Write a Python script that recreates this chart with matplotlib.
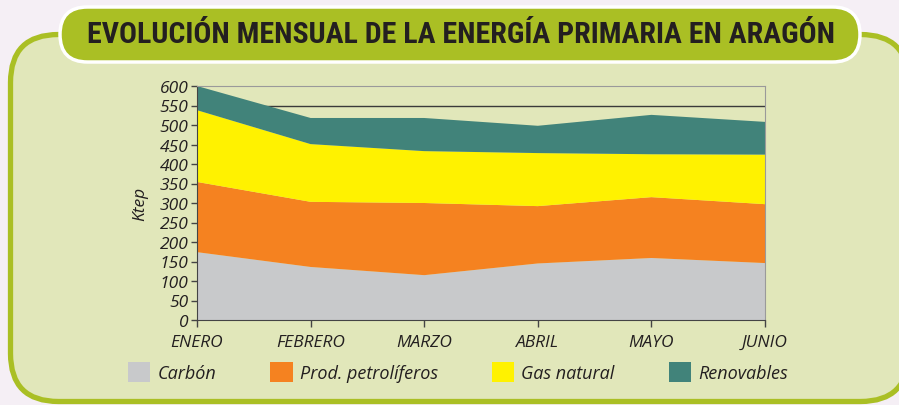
"""Evolución mensual de la energía primaria en Aragón - stacked area."""
import matplotlib
matplotlib.use("Agg")
import matplotlib.pyplot as plt
from matplotlib.patches import FancyBboxPatch, Patch

# data (ktep)
months = ["ENERO", "FEBRERO", "MARZO", "ABRIL", "MAYO", "JUNIO"]
carbon = [174, 136, 115, 145, 159, 146]
petroliferos = [180, 167, 185, 147, 156, 151]
gas_natural = [184, 148, 133, 136, 110, 127]
renovables = [62, 67, 85, 70, 101, 84]
series_names = ["Carbón", "Prod. petrolíferos", "Gas natural", "Renovables"]
yticks = list(range(0, 601, 50))

colors = ["#c8c9cb", "#f58220", "#fff200", "#41837a"]
GREEN = "#aabf24"
PANEL = "#e1e7ba"
TXT = "#231f20"
FONT = ["Open Sans", "DejaVu Sans"]

fig = plt.figure(figsize=(8.99, 4.06), dpi=100, facecolor="#f5eff5")

# background decoration in pixel coords
bg = fig.add_axes([0, 0, 1, 1])
bg.set_xlim(0, 899)
bg.set_ylim(406, 0)
bg.axis("off")
bg.add_patch(FancyBboxPatch((10.5, 35.5), 898, 367,
                            boxstyle="round,pad=0,rounding_size=48",
                            fc=PANEL, ec=GREEN, lw=3.8))
bg.add_patch(FancyBboxPatch((60, 8), 800, 55,
                            boxstyle="round,pad=0,rounding_size=27.5",
                            fc=GREEN, ec="white", lw=2.5))
bg.text(461, 35, "EVOLUCIÓN MENSUAL DE LA ENERGÍA PRIMARIA EN ARAGÓN",
        ha="center", va="center", fontsize=21.5, fontweight="bold", color=TXT,
        family=["Roboto Condensed", "Liberation Sans Narrow", "Roboto", "DejaVu Sans"])

ax = fig.add_axes([197 / 899, 85 / 406, 568 / 899, 234 / 406])
ax.set_facecolor("none")
x = list(range(len(months)))
ax.axhline(550, color="#3a3a3a", lw=1.0, zorder=0)
ax.stackplot(x, carbon, petroliferos, gas_natural, renovables,
             colors=colors, lw=0, zorder=2)
ax.set_xlim(0, len(months) - 1)
ax.set_ylim(0, 600)
ax.set_yticks(yticks)
ax.set_xticks(x)
ax.set_xticklabels(months)
for lab in ax.get_xticklabels() + ax.get_yticklabels():
    lab.set_fontstyle("italic")
    lab.set_family(FONT)
    lab.set_fontsize(12.5)
    lab.set_color(TXT)
ax.tick_params(axis="y", length=4, width=1, color="#444444", pad=2)
ax.tick_params(axis="x", length=5, width=1, color="#444444", pad=5)
ax.spines["left"].set_color("#444444")
ax.spines["bottom"].set_color("#444444")
ax.spines["top"].set_color("#9a9a9a")
ax.spines["right"].set_color("#9a9a9a")
ax.set_ylabel("Ktep", fontstyle="italic", family=FONT, fontsize=12.5,
              color=TXT, labelpad=8)

handles = [Patch(fc=c, ec="none") for c in colors]
leg = fig.legend(handles, series_names, loc="center", ncol=4,
                 bbox_to_anchor=(458 / 899, 1 - 373 / 406), frameon=False,
                 handlelength=1.22, handleheight=1.28, handletextpad=0.4,
                 columnspacing=3.0,
                 prop={"family": FONT, "style": "italic", "size": 13})
for t in leg.get_texts():
    t.set_color(TXT)

fig.savefig("out.png", dpi=100, facecolor=fig.get_facecolor())
